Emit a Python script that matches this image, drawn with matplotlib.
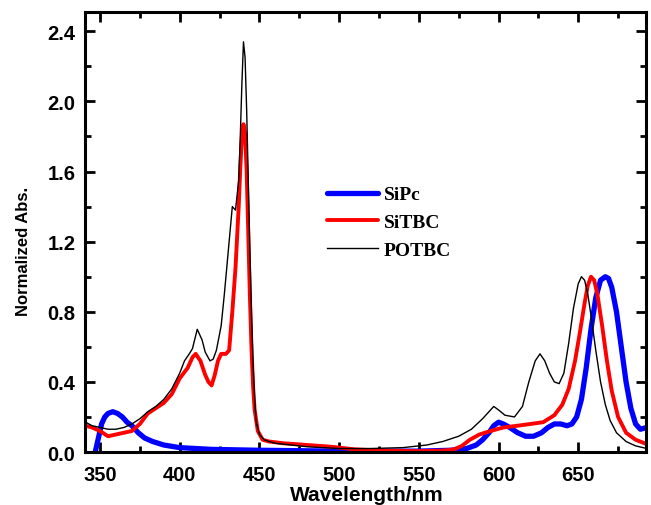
import numpy as np
import matplotlib.pyplot as plt
from matplotlib.ticker import MultipleLocator

# wavelength (nm) / normalized absorbance
wl_potbc = [341, 345, 350, 355, 360, 365, 370, 375, 380, 385, 390, 395, 400, 403,
            406, 408, 411, 414, 416, 419, 421, 423, 426, 428, 430, 432, 433, 435,
            437, 438, 439, 440, 441, 442, 443, 444, 445, 446, 447, 448, 450, 453,
            456, 460, 470, 480, 500, 520, 540, 555, 565, 575, 583, 590, 594, 597,
            600, 604, 610, 615, 619, 623, 626, 629, 632, 635, 638, 641, 644, 647,
            650, 652, 654, 656, 658, 661, 664, 667, 670, 674, 680, 686, 693]
abs_potbc = [0.17, 0.15, 0.14, 0.13, 0.13, 0.14, 0.16, 0.19, 0.23, 0.26, 0.30, 0.36, 0.45, 0.52,
             0.56, 0.59, 0.70, 0.64, 0.57, 0.52, 0.53, 0.58, 0.72, 0.90, 1.10, 1.30, 1.40, 1.38,
             1.55, 1.80, 2.10, 2.34, 2.25, 1.95, 1.55, 1.15, 0.80, 0.50, 0.30, 0.17, 0.10, 0.07,
             0.06, 0.05, 0.04, 0.03, 0.02, 0.02, 0.025, 0.04, 0.06, 0.09, 0.13, 0.19, 0.23, 0.26,
             0.24, 0.21, 0.20, 0.26, 0.40, 0.52, 0.56, 0.52, 0.45, 0.40, 0.39, 0.45, 0.62, 0.82,
             0.96, 1.00, 0.98, 0.90, 0.78, 0.58, 0.40, 0.27, 0.18, 0.11, 0.06, 0.035, 0.02]

wl_sitbc = [341, 345, 350, 355, 360, 365, 370, 375, 380, 385, 390, 395, 400, 405,
            408, 410, 413, 416, 418, 420, 422, 424, 426, 429, 431, 433, 435, 437,
            438, 439, 440, 441, 442, 443, 444, 445, 446, 447, 449, 452, 456, 465,
            480, 495, 510, 530, 550, 565, 572, 577, 582, 588, 595, 603, 612, 620,
            628, 635, 640, 644, 648, 651, 654, 656, 658, 660, 662, 665, 668, 671,
            675, 680, 686, 693]
abs_sitbc = [0.15, 0.14, 0.12, 0.09, 0.10, 0.11, 0.12, 0.16, 0.22, 0.25, 0.28, 0.33, 0.42, 0.48,
             0.54, 0.56, 0.52, 0.44, 0.40, 0.38, 0.44, 0.52, 0.56, 0.56, 0.58, 0.80, 1.05, 1.40,
             1.62, 1.80, 1.87, 1.82, 1.60, 1.25, 0.90, 0.60, 0.38, 0.24, 0.12, 0.07, 0.06, 0.05,
             0.04, 0.03, 0.015, 0.007, 0.005, 0.008, 0.015, 0.035, 0.07, 0.10, 0.12, 0.14, 0.15, 0.16,
             0.17, 0.21, 0.27, 0.36, 0.52, 0.68, 0.85, 0.95, 1.00, 0.98, 0.90, 0.72, 0.52, 0.35,
             0.20, 0.11, 0.07, 0.045]

wl_sipc = [347, 349, 351, 353, 355, 358, 361, 364, 367, 370, 374, 378, 383, 390,
           400, 420, 450, 500, 550, 570, 580, 586, 590, 594, 597, 600, 603, 607,
           612, 617, 622, 627, 631, 635, 639, 643, 646, 649, 652, 655, 658, 661,
           664, 667, 669, 671, 674, 677, 680, 683, 686, 689, 693]
abs_sipc = [0.0, 0.08, 0.16, 0.20, 0.22, 0.23, 0.22, 0.20, 0.17, 0.15, 0.11, 0.08, 0.06, 0.04,
            0.025, 0.015, 0.01, 0.005, 0.005, 0.01, 0.02, 0.04, 0.07, 0.11, 0.15, 0.17, 0.16, 0.14,
            0.11, 0.09, 0.09, 0.11, 0.14, 0.16, 0.16, 0.15, 0.16, 0.20, 0.30, 0.48, 0.70, 0.88,
            0.98, 1.00, 0.99, 0.94, 0.80, 0.60, 0.40, 0.25, 0.16, 0.13, 0.14]

plt.rcParams['font.family'] = 'Liberation Sans'
plt.rcParams['font.weight'] = 'bold'

fig = plt.figure(figsize=(6.51, 5.06), dpi=100)
ax = fig.add_axes([0.1306, 0.1047, 0.8617, 0.8696])

ax.plot(wl_sipc, abs_sipc, color='#0000ff', lw=3.8, label='SiPc', solid_capstyle='round')
ax.plot(wl_sitbc, abs_sitbc, color='#ff0000', lw=2.8, label='SiTBC', solid_capstyle='round')
ax.plot(wl_potbc, abs_potbc, color='black', lw=1.0, label='POTBC')

ax.set_xlim(340.6, 692.5)
ax.set_ylim(0, 2.51)
ax.xaxis.set_major_locator(MultipleLocator(50))
ax.xaxis.set_minor_locator(MultipleLocator(25))
ax.yaxis.set_major_locator(MultipleLocator(0.4))
ax.yaxis.set_minor_locator(MultipleLocator(0.2))
ax.tick_params(which='both', direction='in', top=True, right=True, width=2,
               labelsize=14.5)
ax.tick_params(which='major', length=7)
ax.tick_params(which='minor', length=4)
ax.tick_params(axis='x', which='major', pad=9)
ax.tick_params(axis='y', which='major', pad=7)
for s in ax.spines.values():
    s.set_linewidth(2.2)
for lab in ax.get_xticklabels() + ax.get_yticklabels():
    lab.set_fontweight('bold')

ax.set_xlabel('Wavelength/nm', fontsize=15, fontweight='bold')
ax.set_ylabel('Normalized Abs.', fontsize=12, fontweight='bold')
ax.xaxis.set_label_coords(0.502, -0.074)
ax.yaxis.set_label_coords(-0.097, 0.458)

leg = ax.legend(loc='upper left', bbox_to_anchor=(0.401, 0.645), frameon=False,
                prop={'family': 'Liberation Serif', 'weight': 'bold', 'size': 14},
                handlelength=2.6, handletextpad=0.3, labelspacing=0.53)

fig.savefig('out.png', dpi=100)
